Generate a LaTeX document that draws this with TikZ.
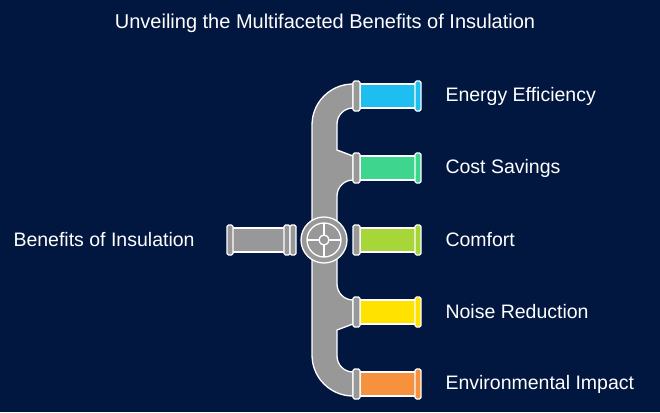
\documentclass[tikz,border=0pt]{standalone}
\usepackage{fontspec}
\setmainfont{Liberation Sans}
\definecolor{backdrop}{RGB}{1,23,64}
\definecolor{pipegray}{RGB}{152,152,152}
\definecolor{energy}{RGB}{30,190,240}
\definecolor{cost}{RGB}{62,214,142}
\definecolor{comfort}{RGB}{166,214,56}
\definecolor{noise}{RGB}{255,226,0}
\definecolor{environ}{RGB}{246,146,62}
\begin{document}
\begin{tikzpicture}[x=1pt,y=-1pt,
    pipeline/.style={draw=white, line width=1.3pt},
    label/.style={text=white, anchor=west, font=\fontsize{19.5}{23}\selectfont}]
  \fill[backdrop] (0,0) rectangle (660,412);
  \useasboundingbox (0,0) rectangle (660,412);

  % title
  \node[text=white, font=\fontsize{20}{24}\selectfont] (title) at (325,23) {Unveiling the Multifaceted Benefits of Insulation};

  % main vertical pipe
  \filldraw[pipeline, fill=pipegray]
    (353,84) arc[start angle=-90, end angle=-180, radius=41] -- (312,355)
    arc[start angle=180, end angle=90, radius=41] -- (353,372)
    arc[start angle=90, end angle=180, radius=16] -- (337,330) -- (353,324) -- (353,300)
    arc[start angle=90, end angle=180, radius=16] -- (337,196)
    arc[start angle=180, end angle=270, radius=16] -- (353,156) -- (337,150) -- (337,124)
    arc[start angle=180, end angle=270, radius=16] -- cycle;

  % branches
  \foreach \y/\col/\txt [count=\i] in {96/energy/Energy Efficiency, 168/cost/Cost Savings,
      240/comfort/Comfort, 312/noise/Noise Reduction, 384/environ/Environmental Impact}{
    \filldraw[pipeline, fill=\col] (360,\y-12) rectangle (416,\y+12);
    \filldraw[pipeline, fill=pipegray, rounded corners=1.5pt] (353,\y-15) rectangle (360,\y+15);
    \filldraw[pipeline, fill=\col, rounded corners=1.5pt] (415,\y-15) rectangle (421,\y+15);
    \node[label] (out\i) at (442,\y) {\txt};
  }

  % input pipe
  \filldraw[pipeline, fill=pipegray] (232,228) rectangle (285,252);
  \filldraw[pipeline, fill=pipegray, rounded corners=1.5pt] (227,225) rectangle (233,255);
  \filldraw[pipeline, fill=pipegray, rounded corners=1.5pt] (284,225) rectangle (290,255);
  \filldraw[pipeline, fill=pipegray, rounded corners=1.5pt] (290,225) rectangle (296,255);
  \node[label] (source) at (10,240) {Benefits of Insulation};

  % valve
  \filldraw[pipeline, fill=pipegray] (324,240) circle[radius=23];
  \draw[pipeline] (324,240) circle[radius=17];
  \draw[pipeline] (307,240) -- (341,240) (324,223) -- (324,257);
  \filldraw[pipeline, fill=pipegray] (324,240) circle[radius=5];
\end{tikzpicture}
\end{document}
